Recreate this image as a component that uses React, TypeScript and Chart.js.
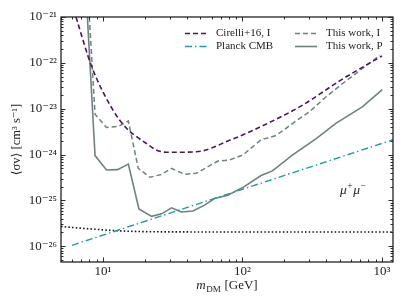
import React, { useEffect, useRef } from 'react';
import { Chart, registerables } from 'chart.js';

Chart.register(...registerables);

// ---- data ----
const cirelliMass = [6.4, 8.3, 11.8, 14.8, 17.4, 20.5, 24.1, 28.5, 46.7, 80.7, 152, 270, 507, 1000];
const cirelliSigma = [1e-21, 8.3e-23, 9.3e-24, 3.7e-24, 2.45e-24, 1.74e-24, 1.26e-24, 1.12e-24, 1.15e-24, 2.04e-24, 4.8e-24, 1.2e-23, 4.2e-23, 1.41e-22];

const planckMass = [6, 1200];
const planckSigma = [1.05e-26, 2.1e-24];

const workIMass = [7.98, 8.77, 10.6, 12.9, 15.2, 17.9, 21.7, 26.3, 31, 38.5, 46.7, 66.6, 80.7, 100.5, 136, 174, 229, 301, 396, 520, 968];
const workISigma = [1e-21, 7.6e-24, 3.9e-24, 4.1e-24, 5.4e-24, 5.0e-25, 3.2e-25, 3.7e-25, 5.0e-25, 3.7e-25, 3.9e-25, 7.2e-25, 7.6e-25, 9.8e-25, 2.1e-24, 2.6e-24, 4.8e-24, 8.5e-24, 1.8e-23, 3.5e-23, 1.48e-22];

const workPMass = [7.73, 8.77, 10.6, 12.7, 15.2, 18.1, 22.3, 26.3, 31, 36.5, 44.2, 53.5, 63, 78.5, 103, 136, 164, 229, 336, 467, 723, 1005];
const workPSigma = [1e-21, 9.5e-25, 4.6e-25, 4.7e-25, 6.2e-25, 6.5e-26, 4.5e-26, 5.1e-26, 6.9e-26, 5.6e-26, 5.9e-26, 7.9e-26, 1.1e-25, 1.3e-25, 2.0e-25, 3.5e-25, 4.4e-25, 9.8e-25, 2.2e-24, 4.8e-24, 1.1e-23, 2.6e-23];

const thermalMass = [5, 8, 14, 30, 1200];
const thermalSigma = [2.7e-26, 2.4e-26, 2.15e-26, 2.06e-26, 2.04e-26];

const xTickValues = [10, 100, 1000];
const yTickValues = [1e-26, 1e-25, 1e-24, 1e-23, 1e-22, 1e-21];

const seriesLabels = ['Cirelli+16, I', 'Planck CMB', 'This work, I', 'This work, P'];
const channelLabel = ['μ', '+', 'μ', '−'];
const xTitleParts = ['m', 'DM', ' [GeV]'];
const yTitle = '⟨σv⟩ [cm³ s⁻¹]';

const SERIF = '"Liberation Serif", "DejaVu Serif", serif';
const TEXT = '#222';

const SUP: Record<string, string> = {
  '-': '⁻', '0': '⁰', '1': '¹', '2': '²', '3': '³', '4': '⁴',
  '5': '⁵', '6': '⁶', '7': '⁷', '8': '⁸', '9': '⁹',
};
const powerLabel = (v: number) => {
  const e = Math.round(Math.log10(v));
  return '10' + String(e).split('').map((c) => SUP[c] || c).join('');
};

const pts = (xs: number[], ys: number[]) => xs.map((x, i) => ({ x, y: ys[i] }));

const framePlugin = {
  id: 'frameTicks',
  afterDatasetsDraw(chart: any) {
    const { ctx, chartArea, scales } = chart;
    const { left, right, top, bottom } = chartArea;
    const xs = scales.x;
    const ys = scales.y;
    ctx.save();
    ctx.strokeStyle = '#2a2a2a';
    ctx.lineWidth = 1;
    const seg = (x1: number, y1: number, x2: number, y2: number) => {
      ctx.beginPath();
      ctx.moveTo(x1, y1);
      ctx.lineTo(x2, y2);
      ctx.stroke();
    };
    for (let e = 0; e <= 3; e++) {
      for (let m = 1; m <= 9; m++) {
        const v = m * Math.pow(10, e);
        if (v < xs.min * 0.999 || v > xs.max * 1.001) continue;
        const px = Math.round(xs.getPixelForValue(v)) + 0.5;
        const len = m === 1 ? 4.5 : 2.5;
        seg(px, bottom, px, bottom - len);
        seg(px, top, px, top + len);
      }
    }
    for (let e = -27; e <= -21; e++) {
      for (let m = 1; m <= 9; m++) {
        const v = m * Math.pow(10, e);
        if (v < ys.min * 0.999 || v > ys.max * 1.001) continue;
        const py = Math.round(ys.getPixelForValue(v)) + 0.5;
        const len = m === 1 ? 4.5 : 2.5;
        seg(left, py, left + len, py);
        seg(right, py, right - len, py);
      }
    }
    ctx.lineWidth = 1.3;
    ctx.strokeStyle = '#222';
    ctx.strokeRect(left, top, right - left, bottom - top);
    ctx.restore();
  },
};

const textPlugin = {
  id: 'extraText',
  afterDraw(chart: any) {
    const { ctx, chartArea } = chart;
    ctx.save();
    ctx.fillStyle = TEXT;
    ctx.textBaseline = 'alphabetic';
    ctx.textAlign = 'left';

    // legend (two columns)
    const legendPos = [
      { i: 0, x: 185, y: 33 },
      { i: 1, x: 185, y: 46 },
      { i: 2, x: 295, y: 33 },
      { i: 3, x: 295, y: 46 },
    ];
    legendPos.forEach(({ i, x, y }) => {
      const ds = chart.data.datasets[i];
      ctx.save();
      ctx.strokeStyle = ds.borderColor;
      ctx.lineWidth = ds.borderWidth;
      ctx.setLineDash(ds.borderDash || []);
      ctx.beginPath();
      ctx.moveTo(x, y + 0.5);
      ctx.lineTo(x + 22, y + 0.5);
      ctx.stroke();
      ctx.restore();
      ctx.font = `11px ${SERIF}`;
      ctx.textBaseline = 'middle';
      ctx.fillText(ds.label, x + 31, y + 0.5);
    });

    // channel label mu+ mu-
    ctx.textBaseline = 'alphabetic';
    let cx = 340;
    const cy = 194;
    ctx.font = `italic 13.5px ${SERIF}`;
    ctx.fillText(channelLabel[0], cx, cy);
    cx += ctx.measureText(channelLabel[0]).width + 0.5;
    ctx.font = `9.5px ${SERIF}`;
    ctx.fillText(channelLabel[1], cx, cy - 5.5);
    cx += ctx.measureText(channelLabel[1]).width + 0.5;
    ctx.font = `italic 13.5px ${SERIF}`;
    ctx.fillText(channelLabel[2], cx, cy);
    cx += ctx.measureText(channelLabel[2]).width + 0.5;
    ctx.font = `9.5px ${SERIF}`;
    ctx.fillText(channelLabel[3], cx, cy - 5.5);

    // x-axis title with subscript
    const fMain = `13px ${SERIF}`;
    const fItal = `italic 13px ${SERIF}`;
    const fSub = `9px ${SERIF}`;
    ctx.font = fItal;
    const w0 = ctx.measureText(xTitleParts[0]).width;
    ctx.font = fSub;
    const w1 = ctx.measureText(xTitleParts[1]).width;
    ctx.font = fMain;
    const w2 = ctx.measureText(xTitleParts[2]).width;
    const total = w0 + w1 + w2 + 1;
    let tx = (chartArea.left + chartArea.right) / 2 - total / 2;
    const ty = 289;
    ctx.font = fItal;
    ctx.fillText(xTitleParts[0], tx, ty);
    tx += w0 + 0.5;
    ctx.font = fSub;
    ctx.fillText(xTitleParts[1], tx, ty + 2.5);
    tx += w1 + 0.5;
    ctx.font = fMain;
    ctx.fillText(xTitleParts[2], tx, ty);
    ctx.restore();
  },
};

export default function App() {
  const canvasRef = useRef<HTMLCanvasElement | null>(null);

  useEffect(() => {
    document.body.style.margin = '0';
    const canvas = canvasRef.current;
    if (!canvas) return;
    const tickFont = { family: SERIF, size: 13 };
    const chart = new Chart(canvas, {
      type: 'line',
      data: {
        datasets: [
          {
            label: seriesLabels[0],
            data: pts(cirelliMass, cirelliSigma),
            borderColor: '#4a1468',
            borderWidth: 1.6,
            borderDash: [5, 3],
            pointRadius: 0,
            cubicInterpolationMode: 'monotone',
            fill: false,
          },
          {
            label: seriesLabels[1],
            data: pts(planckMass, planckSigma),
            borderColor: '#1f9e9c',
            borderWidth: 1.4,
            borderDash: [7, 3, 1.5, 3],
            pointRadius: 0,
            fill: false,
          },
          {
            label: seriesLabels[2],
            data: pts(workIMass, workISigma),
            borderColor: '#6e8282',
            borderWidth: 1.5,
            borderDash: [5, 3],
            pointRadius: 0,
            fill: false,
          },
          {
            label: seriesLabels[3],
            data: pts(workPMass, workPSigma),
            borderColor: '#6e8282',
            borderWidth: 1.6,
            pointRadius: 0,
            fill: false,
          },
          {
            label: '',
            data: pts(thermalMass, thermalSigma),
            borderColor: '#111',
            borderWidth: 1.6,
            borderDash: [1.5, 2.2],
            pointRadius: 0,
            cubicInterpolationMode: 'monotone',
            fill: false,
          },
        ],
      },
      options: {
        responsive: false,
        animation: false,
        layout: { padding: { top: 17, right: 14, left: 0, bottom: 0 } },
        plugins: { legend: { display: false }, tooltip: { enabled: false } },
        scales: {
          x: {
            type: 'logarithmic',
            min: 5,
            max: 1200,
            grid: { display: false, drawTicks: false },
            border: { display: false },
            ticks: {
              font: tickFont,
              color: TEXT,
              padding: 2,
              maxRotation: 0,
              autoSkip: false,
              callback: (v: any) => powerLabel(Number(v)),
            },
            afterBuildTicks: (s: any) => {
              s.ticks = xTickValues.map((value) => ({ value }));
            },
            afterFit: (s: any) => {
              s.height = 43;
            },
          },
          y: {
            type: 'logarithmic',
            min: Math.pow(10, -26.343),
            max: 1e-21,
            grid: { display: false, drawTicks: false },
            border: { display: false },
            title: {
              display: true,
              text: yTitle,
              font: { family: SERIF, size: 12.5 },
              color: TEXT,
              padding: { top: 9, bottom: 0 },
            },
            ticks: {
              font: tickFont,
              color: TEXT,
              padding: 4,
              autoSkip: false,
              callback: (v: any) => powerLabel(Number(v)),
            },
            afterBuildTicks: (s: any) => {
              s.ticks = yTickValues.map((value) => ({ value }));
            },
            afterFit: (s: any) => {
              s.width = 61;
            },
          },
        },
      },
      plugins: [framePlugin, textPlugin],
    } as any);
    return () => chart.destroy();
  }, []);

  return (
    <div style={{ width: 407, height: 305 }}>
      <canvas ref={canvasRef} width={407} height={305} style={{ display: 'block' }} />
    </div>
  );
}
